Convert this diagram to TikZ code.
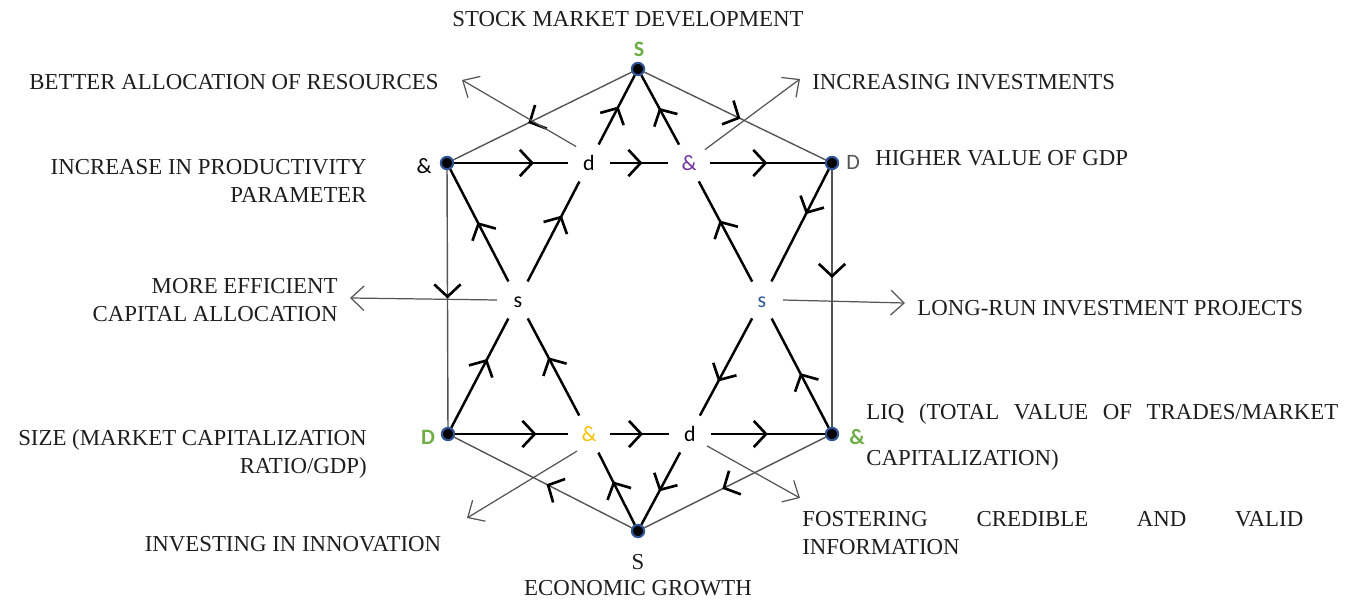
\documentclass[tikz,border=0pt]{standalone}
\usepackage{fontspec}
\setmainfont{Liberation Serif}
\newfontfamily\tagfont{Carlito}
\usetikzlibrary{arrows.meta,decorations.markings}
\definecolor{dotblue}{RGB}{47,85,151}
\definecolor{markgreen}{RGB}{112,173,71}
\definecolor{markpurple}{RGB}{112,48,160}
\definecolor{markorange}{RGB}{255,192,0}
\definecolor{rimgray}{RGB}{85,85,85}
\definecolor{textgray}{RGB}{30,30,30}
\tikzset{
  vertex/.style={circle,fill=black,draw=dotblue,line width=1.2pt,inner sep=0pt,minimum size=7pt},
  cross/.style={circle,inner sep=0pt,minimum size=0.82cm,text height=9pt,text depth=0pt,
    font=\tagfont\fontsize{12.5}{14}\selectfont},
  tag/.style={inner sep=0pt,font=\tagfont\fontsize{12.5}{14}\selectfont},
  boldtag/.style={tag,text=markgreen,font=\tagfont\bfseries\fontsize{12.5}{14}\selectfont},
  caption/.style={inner sep=0pt,text=textgray,font=\fontsize{13}{15.5}\selectfont},
  star/.style={line width=1.4pt},
  rim/.style={draw=rimgray,line width=0.8pt},
  pointer/.style={draw=rimgray,line width=0.7pt,-{Straight Barb[length=7.5pt,width=14pt]}},
  midarrow/.style={postaction={decorate},decoration={markings,
    mark=at position #1 with {\arrow[black,line width=1.5pt]{Straight Barb[length=7pt,width=15pt]}}}},
  midarrow/.default=0.5
}
\begin{document}
\begin{tikzpicture}[x=0.02cm,y=-0.02cm]
      \useasboundingbox (0,0) rectangle (1353,601);
      % corners of the hexagon
      \draw
        (638,69) node[vertex] (T){}
        (447,163) node[vertex] (UL){}
        (832,163) node[vertex] (UR){}
        (448,434) node[vertex] (LL){}
        (832,434) node[vertex] (LR){}
        (638,531) node[vertex] (B){};
      % crossings of the star
      \draw
        (589,163) node[cross] (d1){d}
        (689,163) node[cross,text=markpurple] (a1){\&}
        (518,300) node[cross] (sL){s}
        (762,300) node[cross,text=dotblue] (sR){s}
        (589,434) node[cross,text=markorange] (a2){\&}
        (690,434) node[cross] (d2){d};
      % corner tags
      \node[boldtag] (tT) at (639,49) {S};
      \node[tag] (tUL) at (424,166) {\&};
      \node[tag,text=rimgray] (tUR) at (853,162) {D};
      \node[boldtag] (tLL) at (428,437) {D};
      \node[boldtag] (tLR) at (857,437) {\&};
      \node[caption] (tB) at (638,562) {S};
      % hexagon
      \begin{scope}[rim]
        \draw[midarrow=0.58] (T) -- (UL);
        \draw[midarrow=0.53] (T) -- (UR);
        \draw[midarrow=0.42] (UR) -- (LR);
        \draw[midarrow] (UL) -- (LL);
        \draw[midarrow=0.57] (LR) -- (B);
        \draw[midarrow=0.48] (B) -- (LL);
      \end{scope}
      % star
      \begin{scope}[star]
        \draw[midarrow=0.7] (UL) -- (d1);
        \draw[midarrow=0.56] (d1) -- (a1);
        \draw[midarrow] (a1) -- (UR);
        \draw[midarrow=0.4] (UR) -- (sR);
        \draw[midarrow=0.65] (sR) -- (d2);
        \draw[midarrow=0.54] (d2) -- (B);
        \draw[midarrow=0.6] (B) -- (a2);
        \draw[midarrow=0.6] (a2) -- (sL);
        \draw[midarrow=0.53] (sL) -- (UL);
        \draw[midarrow=0.63] (LL) -- (sL);
        \draw[midarrow=0.66] (sL) -- (d1);
        \draw[midarrow=0.55] (d1) -- (T);
        \draw[midarrow=0.72] (LL) -- (a2);
        \draw[midarrow=0.56] (a2) -- (d2);
        \draw[midarrow] (d2) -- (LR);
        \draw[midarrow] (LR) -- (sR);
        \draw[midarrow=0.61] (sR) -- (a1);
        \draw[midarrow=0.53] (a1) -- (T);
      \end{scope}
      % pointers to the effects
      \coordinate (pBetter) at (462,80);
      \coordinate (pInvest) at (800,79);
      \coordinate (pEff) at (350,298);
      \coordinate (pLong) at (905,303);
      \coordinate (pInnov) at (467,518);
      \coordinate (pFoster) at (800,498);
      \draw[pointer] (d1.128) -- (pBetter);
      \draw[pointer] (a1.40) -- (pInvest);
      \draw[pointer] (sL.180) -- (pEff);
      \draw[pointer] (sR.0) -- (pLong);
      \draw[pointer] (a2.235) -- (pInnov);
      \draw[pointer] (d2.-35) -- (pFoster);
      % captions
      \node[caption] (cTop) at (628,19) {STOCK MARKET DEVELOPMENT};
      \node[caption] (cBetter) at (234,82) {BETTER ALLOCATION OF RESOURCES};
      \node[caption,anchor=east,align=right] (cProd) at (367,181) {INCREASE IN PRODUCTIVITY\\PARAMETER};
      \node[caption,anchor=east,align=right] (cEff) at (338,300) {MORE EFFICIENT\\CAPITAL ALLOCATION};
      \node[caption,anchor=east,align=right] (cSize) at (367,454) {SIZE (MARKET CAPITALIZATION\\RATIO/GDP)};
      \node[caption] (cInnov) at (293,544) {INVESTING IN INNOVATION};
      \node[caption] (cGrowth) at (638,588) {ECONOMIC GROWTH};
      \node[caption,anchor=west] (cInvest) at (812,82) {INCREASING INVESTMENTS};
      \node[caption,anchor=west] (cGDP) at (875,158) {HIGHER VALUE OF GDP};
      \node[caption,anchor=west] (cLong) at (917,308) {LONG-RUN INVESTMENT PROJECTS};
      \node[caption,anchor=west,align=left] (cLiq) at (866,437)
        {\makebox[9.44cm][s]{LIQ (TOTAL VALUE OF TRADES/MARKET}\\[11pt]CAPITALIZATION)};
      \node[caption,anchor=west,align=left] (cFoster) at (802,533)
        {\makebox[10.02cm][s]{FOSTERING CREDIBLE AND VALID}\\INFORMATION};
    \end{tikzpicture}
\end{document}
